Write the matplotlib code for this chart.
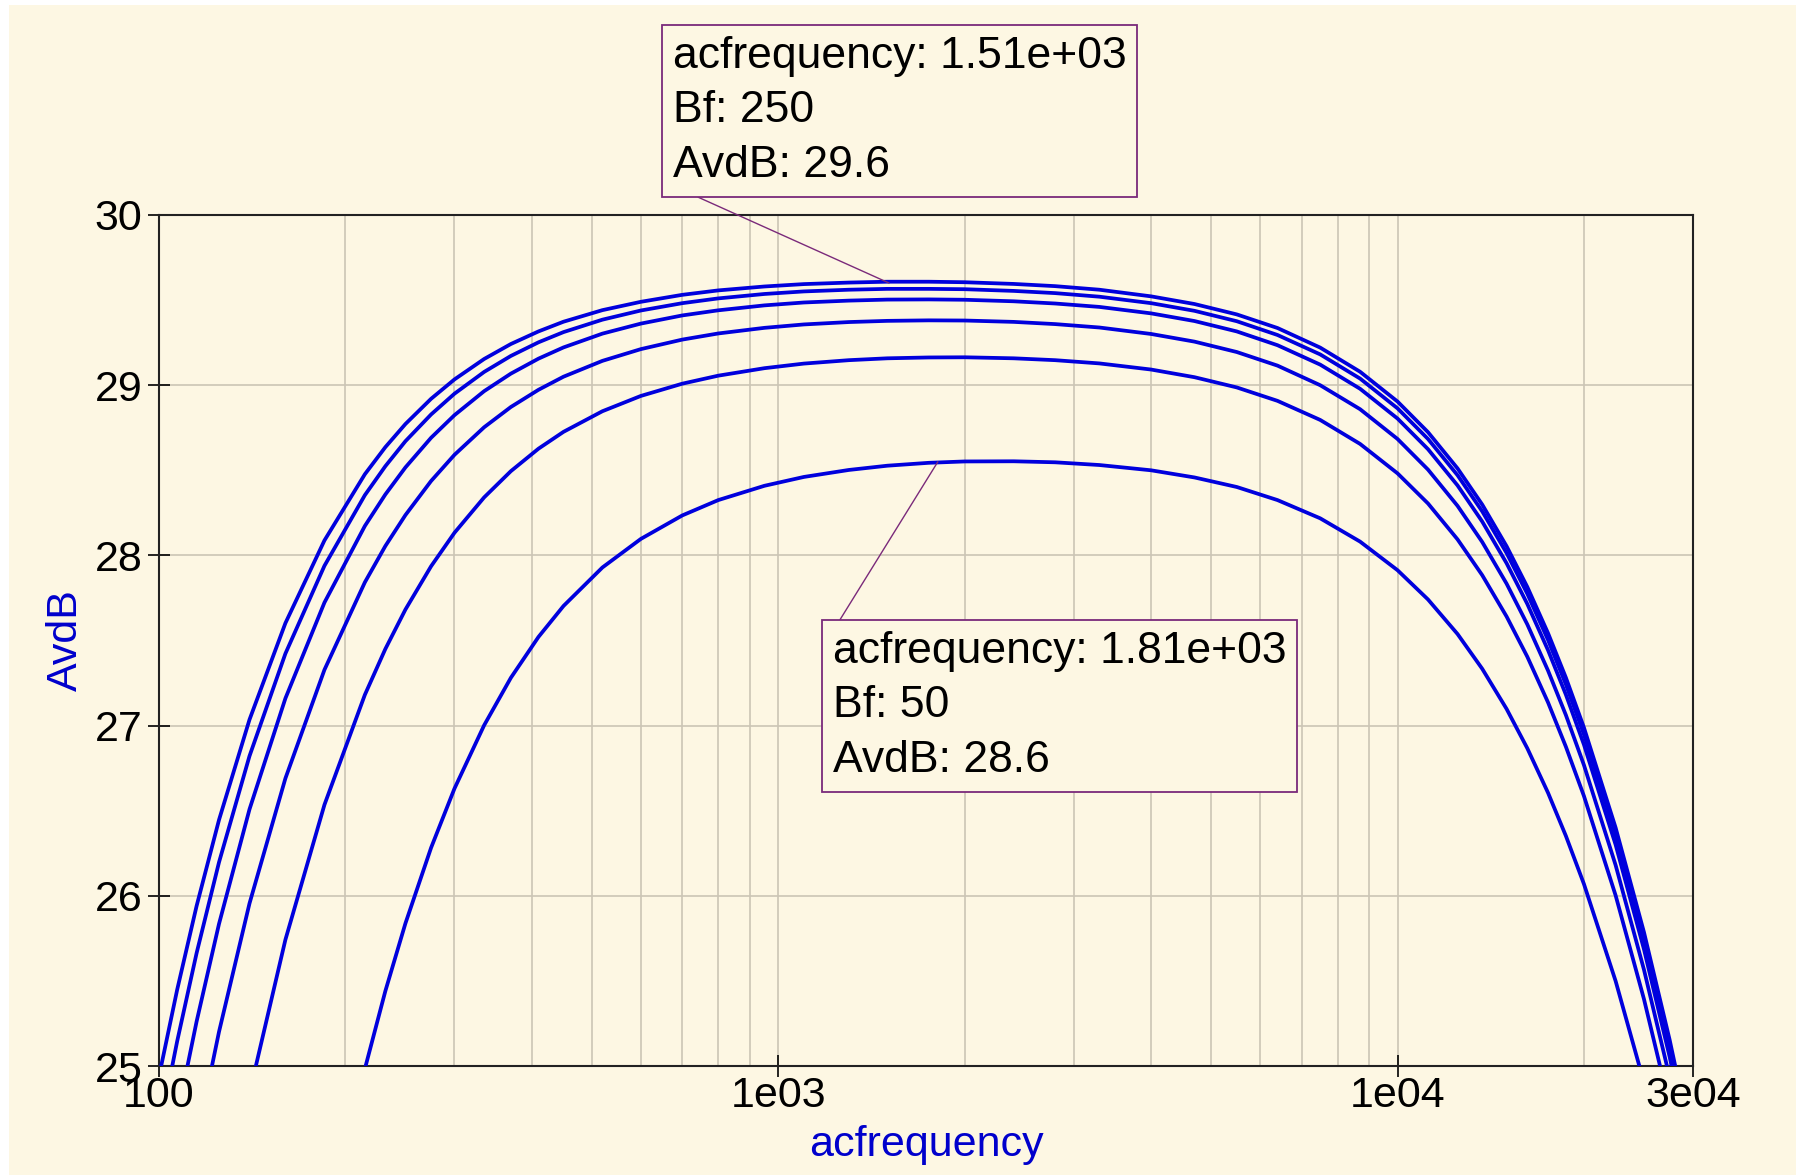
import matplotlib
matplotlib.use("Agg")
import matplotlib.pyplot as plt
from matplotlib.patches import Rectangle

# frequency points (Hz) shared by all sweeps
freq = [95, 100, 107, 115, 125, 140, 160, 185, 215, 232, 250, 275, 300, 335, 370,
        410, 450, 520, 600, 700, 800, 950, 1100, 1300, 1500, 1750, 2000, 2400,
        2800, 3300, 4000, 4700, 5500, 6400, 7500, 8700, 10000, 11200, 12500,
        13700, 15000, 16200, 17500, 18700, 20000, 22500, 25000, 27500, 30000]

# AvdB per Bf value
avdb_250 = [24.519, 24.939, 25.449, 25.940, 26.446, 27.035, 27.602, 28.088, 28.477,
            28.636, 28.772, 28.920, 29.034, 29.154, 29.242, 29.316, 29.373, 29.441,
            29.490, 29.531, 29.557, 29.580, 29.594, 29.603, 29.608, 29.608, 29.605,
            29.595, 29.582, 29.561, 29.522, 29.477, 29.416, 29.336, 29.221, 29.079,
            28.904, 28.724, 28.511, 28.299, 28.054, 27.815, 27.543, 27.282, 26.988,
            26.400, 25.786, 25.155, 24.512]
avdb_210 = [24.169, 24.610, 25.146, 25.663, 26.197, 26.821, 27.423, 27.939, 28.354,
            28.524, 28.671, 28.828, 28.950, 29.078, 29.172, 29.252, 29.312, 29.385,
            29.439, 29.482, 29.510, 29.536, 29.551, 29.561, 29.566, 29.566, 29.564,
            29.554, 29.541, 29.520, 29.482, 29.437, 29.376, 29.295, 29.181, 29.039,
            28.864, 28.684, 28.471, 28.259, 28.014, 27.775, 27.503, 27.242, 26.948,
            26.360, 25.746, 25.115, 24.472]
avdb_170 = [23.663, 24.133, 24.706, 25.261, 25.835, 26.508, 27.160, 27.723, 28.173,
            28.358, 28.517, 28.691, 28.824, 28.965, 29.068, 29.156, 29.222, 29.303,
            29.362, 29.410, 29.440, 29.469, 29.486, 29.497, 29.503, 29.504, 29.502,
            29.493, 29.480, 29.460, 29.422, 29.377, 29.316, 29.235, 29.121, 28.979,
            28.804, 28.624, 28.411, 28.199, 27.954, 27.715, 27.443, 27.182, 26.888,
            26.300, 25.686, 25.055, 24.412]
avdb_130 = [22.797, 23.314, 23.947, 24.562, 25.201, 25.955, 26.690, 27.328, 27.842,
            28.055, 28.237, 28.437, 28.591, 28.753, 28.872, 28.973, 29.050, 29.143,
            29.212, 29.268, 29.304, 29.337, 29.357, 29.371, 29.378, 29.381, 29.380,
            29.372, 29.359, 29.339, 29.301, 29.256, 29.195, 29.115, 29.000, 28.859,
            28.684, 28.504, 28.291, 28.079, 27.834, 27.595, 27.323, 27.062, 26.768,
            26.180, 25.566, 24.935, 24.292]
avdb_90 = [21.080, 21.684, 22.429, 23.160, 23.926, 24.840, 25.742, 26.535, 27.181,
           27.450, 27.682, 27.936, 28.133, 28.341, 28.495, 28.627, 28.726, 28.847,
           28.937, 29.009, 29.056, 29.100, 29.127, 29.147, 29.158, 29.163, 29.164,
           29.158, 29.147, 29.128, 29.092, 29.047, 28.987, 28.908, 28.796, 28.655,
           28.482, 28.305, 28.094, 27.884, 27.641, 27.405, 27.136, 26.876, 26.586,
           26.002, 25.393, 24.766, 24.128]
avdb_50 = [15.910, 16.727, 17.754, 18.784, 19.891, 21.251, 22.643, 23.912, 24.983,
           25.440, 25.838, 26.282, 26.630, 27.002, 27.281, 27.521, 27.703, 27.929,
           28.097, 28.235, 28.325, 28.409, 28.461, 28.502, 28.527, 28.544, 28.552,
           28.553, 28.547, 28.531, 28.500, 28.458, 28.402, 28.325, 28.218, 28.081,
           27.913, 27.741, 27.538, 27.334, 27.098, 26.867, 26.605, 26.352, 26.069,
           25.499, 24.903, 24.288, 23.662]

sweeps = [avdb_250, avdb_210, avdb_170, avdb_130, avdb_90, avdb_50]

x_ticks = [100, 1000, 10000, 30000]
x_ticklabels = ['100', '1e03', '1e04', '3e04']
x_minor = [200, 300, 400, 500, 600, 700, 800, 900,
           2000, 3000, 4000, 5000, 6000, 7000, 8000, 9000, 20000]
y_ticks = [25, 26, 27, 28, 29, 30]

BG = '#fdf7e3'
CURVE = '#0000dd'
GRID = '#cbc5b5'
PURPLE = '#7a2a7a'
FS = 32

plt.rcParams['font.family'] = ['Liberation Sans', 'DejaVu Sans']

fig = plt.figure(figsize=(17.96, 11.75), dpi=100, facecolor='white')
fig.patches.append(Rectangle((9 / 1796, 0), 1, 1 - 5 / 1175, transform=fig.transFigure,
                             facecolor=BG, edgecolor='none', zorder=-10))

ax = fig.add_axes([159 / 1796, 1 - 1066 / 1175, (1693 - 159) / 1796, (1066 - 215) / 1175])
ax.set_facecolor(BG)

for yv in sweeps:
    ax.plot(freq, yv, color=CURVE, lw=2.7, zorder=3, solid_joinstyle='round')

ax.set_xscale('log')
ax.set_xlim(100, 30000)
ax.set_ylim(25, 30)
ax.set_xticks(x_ticks)
ax.set_xticklabels(x_ticklabels)
ax.set_xticks(x_minor, minor=True)
ax.set_xticklabels([], minor=True)
ax.set_yticks(y_ticks)

ax.grid(True, which='both', axis='x', color=GRID, lw=1.2, zorder=0)
ax.grid(True, which='major', axis='y', color=GRID, lw=1.2, zorder=0)
ax.tick_params(axis='x', which='minor', length=0)
ax.tick_params(axis='x', which='major', direction='inout', length=16, width=1.2,
               labelsize=FS - 1, pad=-1)
ax.tick_params(axis='y', which='major', direction='inout', length=16, width=1.2,
               labelsize=FS - 1, pad=4)
for sp in ax.spines.values():
    sp.set_color('#222222')
    sp.set_linewidth(1.5)

ax.set_xlabel('acfrequency', fontsize=FS - 1, color='#0000cc', labelpad=7)
ax.set_ylabel('AvdB', fontsize=FS - 1, color='#0000cc', labelpad=6)

box = dict(boxstyle='square,pad=0.24', facecolor=BG, edgecolor=PURPLE, lw=1.3)
ax.annotate('acfrequency: 1.51e+03\nBf: 250\nAvdB: 29.6',
            xy=(1510, 29.6), xycoords='data',
            xytext=(673, 1175 - 36), textcoords='figure pixels',
            ha='left', va='top', fontsize=FS, linespacing=1.42, bbox=box,
            arrowprops=dict(arrowstyle='-', color=PURPLE, lw=1.0,
                            relpos=(0, 0), shrinkA=0, shrinkB=0),
            annotation_clip=False, zorder=5)
ax.annotate('acfrequency: 1.81e+03\nBf: 50\nAvdB: 28.6',
            xy=(1810, 28.55), xycoords='data',
            xytext=(833, 1175 - 631), textcoords='figure pixels',
            ha='left', va='top', fontsize=FS, linespacing=1.42, bbox=box,
            arrowprops=dict(arrowstyle='-', color=PURPLE, lw=1.0,
                            relpos=(0, 1), shrinkA=0, shrinkB=0),
            annotation_clip=False, zorder=5)

fig.savefig('out.png', dpi=100, facecolor=fig.get_facecolor())
